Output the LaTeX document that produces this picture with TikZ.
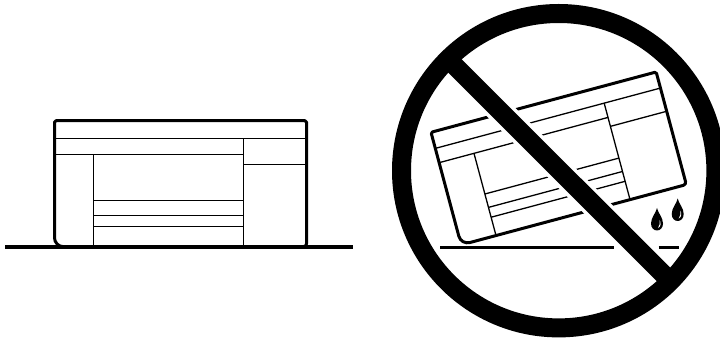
\documentclass[tikz,border=0pt]{standalone}
\usepackage{tikz}

\tikzset{
  thickline/.style={line width=3pt},
  thinline/.style={line width=1.3pt},
  groundline/.style={line width=3.2pt},
  noentry/.style={line width=19pt},
  printer/.pic={
    \draw[thickline, line join=round] (0,63) [rounded corners=1.5pt] -- (0,0) -- (252,0) [rounded corners=3pt] -- (252,126) [rounded corners=9pt] -- (0,126) -- (0,63);
    \draw[thinline] (0,18) -- (252,18);
    \draw[thinline] (0,34) -- (189,34);
    \draw[thinline] (189,44) -- (252,44);
    \draw[thinline] (189,18) -- (189,126);
    \draw[thinline] (39,34) -- (39,126);
    \draw[thinline] (39,79.5) -- (189,79.5);
    \draw[thinline] (39,94.5) -- (189,94.5);
    \draw[thinline] (39,105.5) -- (189,105.5);
  },
  droplet/.pic={
    \fill (0,-11.5) .. controls (1,-6.5) and (6,-2) .. (6,4) .. controls (6,8.5) and (3,11) .. (0,11) .. controls (-3,11) and (-6,8.5) .. (-6,4) .. controls (-6,-2) and (-1,-6.5) .. (0,-11.5) -- cycle;
    \fill[white] (2.6,0.5) .. controls (4.2,3.5) and (4,7) .. (1,8.6) .. controls (2.8,6) and (3,3.5) .. (2.6,0.5) -- cycle;
  }
}

\begin{document}
\begin{tikzpicture}[x=1pt,y=-1pt]
\useasboundingbox (0,0) rectangle (720,339);

% left
\pic at (54.5,120.7) {printer};
\draw[groundline] (5,247) -- (353,247);

% right
\begin{scope}[shift={(431,132.3)},rotate=15,scale=0.925]
\pic[transform shape] {printer};
\end{scope}
\draw[groundline] (440,247.3) -- (614,247.3);
\draw[groundline] (658.5,247.3) -- (679,247.3);
\pic at (657,219.5) {droplet};
\pic at (677.7,210) {droplet};

% prohibition sign
\coordinate (barstart) at (449,60);
\coordinate (barend) at (669.6,280.5);
\draw[white, line width=26pt] (barstart) -- (barend);
\draw[noentry] (barstart) -- (barend);
\draw[noentry] (558.7,170.7) circle (157.2);

\end{tikzpicture}
\end{document}
